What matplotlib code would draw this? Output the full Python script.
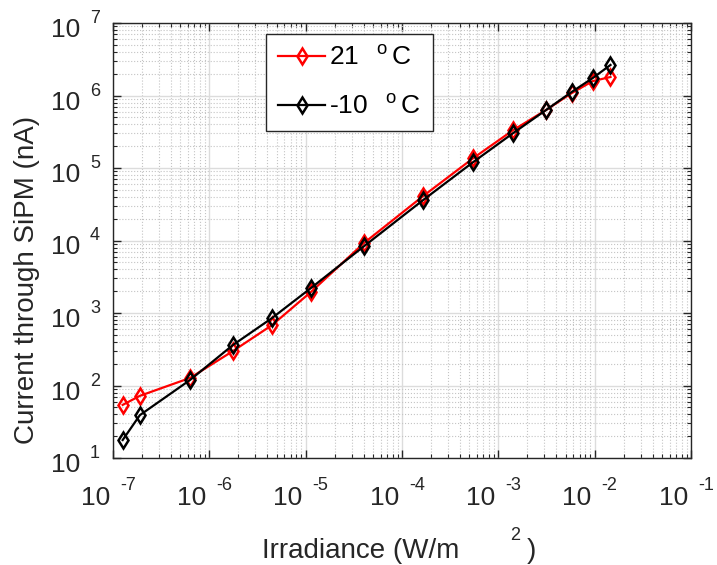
import matplotlib
matplotlib.use("Agg")
import matplotlib.pyplot as plt
import matplotlib.transforms as mtrans
import numpy as np

plt.rcParams["font.family"] = ["Liberation Sans", "DejaVu Sans"]
plt.rcParams["mathtext.fontset"] = "custom"
plt.rcParams["mathtext.rm"] = "Liberation Sans"
plt.rcParams["mathtext.default"] = "regular"

# 조도 (W/m^2) — 두 온도 공통 측정점
irr = [1.26e-7, 1.9e-7, 6.3e-7, 1.76e-6, 4.48e-6, 1.135e-5, 4.06e-5,
       1.66e-4, 5.5e-4, 1.43e-3, 3.13e-3, 5.78e-3, 9.55e-3, 1.46e-2]
# SiPM 전류 (nA)
cur_21 = [54, 72, 127, 299, 682, 1950, 9300,
          41100, 137000, 334000, 631000, 1.08e6, 1.58e6, 1.8e6]
cur_m10 = [17.7, 39, 119, 362, 853, 2210, 8400,
           36200, 121000, 304000, 631000, 1.12e6, 1.74e6, 2.64e6]
labels = [r"$21^{\quad o}\,C$", r"-$10^{\quad o}\,C$"]
x_exp = list(range(-7, 0))
y_exp = list(range(1, 8))

W, H = 717, 565
fig = plt.figure(figsize=(W / 100, H / 100), dpi=100)
ax = fig.add_axes([113 / W, 1 - 458 / H, 578 / W, 435 / H])

ax.plot(irr, cur_21, color="#ff0000", lw=1.6, marker="d", ms=8.5, mew=1.8,
        mfc="none", label=labels[0])
ax.plot(irr, cur_m10, color="black", lw=1.6, marker="d", ms=8.5, mew=1.8,
        mfc="none", label=labels[1])

ax.set_xscale("log")
ax.set_yscale("log")
ax.set_xlim(1e-7, 1e-1)
ax.set_ylim(1e1, 1e7)
ax.set_xticks([10.0 ** e for e in x_exp])
ax.set_yticks([10.0 ** e for e in y_exp])
ax.xaxis.set_minor_locator(matplotlib.ticker.LogLocator(base=10, subs=np.arange(2, 10)))
ax.yaxis.set_minor_locator(matplotlib.ticker.LogLocator(base=10, subs=np.arange(2, 10)))
ax.tick_params(which="both", direction="in", top=True, right=True,
               labelbottom=False, labelleft=False, color="#262626")
ax.tick_params(which="major", length=6, width=1)
ax.tick_params(which="minor", length=3, width=0.8)
for s in ax.spines.values():
    s.set_color("#262626")
    s.set_linewidth(1.0)
ax.grid(which="major", color="#dcdcdc", lw=1.0, ls="-")
ax.grid(which="minor", color="#c4c4c4", lw=0.8, ls=":")
ax.set_axisbelow(True)

# MATLAB식 눈금 라벨: "10" + 떨어진 지수
tc = "#262626"
bx = mtrans.blended_transform_factory(ax.transData, ax.transAxes)
by = mtrans.blended_transform_factory(ax.transAxes, ax.transData)
for e in x_exp:
    ax.text(10.0 ** e, 0, "10", fontsize=19, color=tc, ha="right", va="baseline",
            transform=mtrans.offset_copy(bx, fig, x=-3, y=-47, units="dots"))
    ax.text(10.0 ** e, 0, str(e), fontsize=13, color=tc, ha="left", va="baseline",
            transform=mtrans.offset_copy(bx, fig, x=7, y=-32, units="dots"))
for e in y_exp:
    ax.text(0, 10.0 ** e, "10", fontsize=19, color=tc, ha="right", va="baseline",
            transform=mtrans.offset_copy(by, fig, x=-33, y=-14, units="dots"))
    ax.text(0, 10.0 ** e, str(e), fontsize=13, color=tc, ha="left", va="baseline",
            transform=mtrans.offset_copy(by, fig, x=-23, y=0, units="dots"))

# 축 라벨
fig.text(27 / W, 1 - 280 / H, "Current through SiPM (nA)", fontsize=20, color=tc,
         rotation=90, ha="center", va="center")
fig.text(262 / W, 1 - 558 / H, "Irradiance (W/m", fontsize=20, color=tc,
         ha="left", va="baseline")
fig.text(510 / W, 1 - 540 / H, "2", fontsize=13, color=tc, ha="left", va="baseline")
fig.text(527 / W, 1 - 558 / H, ")", fontsize=20, color=tc, ha="left", va="baseline")

leg = ax.legend(loc="upper left", bbox_to_anchor=(266 / W, 1 - 34 / H),
                bbox_transform=fig.transFigure, borderaxespad=0, fontsize=19,
                handlelength=1.8, handletextpad=0.15,
                labelspacing=0.95, borderpad=0.45, fancybox=False, framealpha=1,
                edgecolor="#262626")
leg.get_frame().set_linewidth(1.0)
for t in leg.get_texts():
    t.set_color("black")

fig.savefig("out.png", dpi=100, facecolor="white")
